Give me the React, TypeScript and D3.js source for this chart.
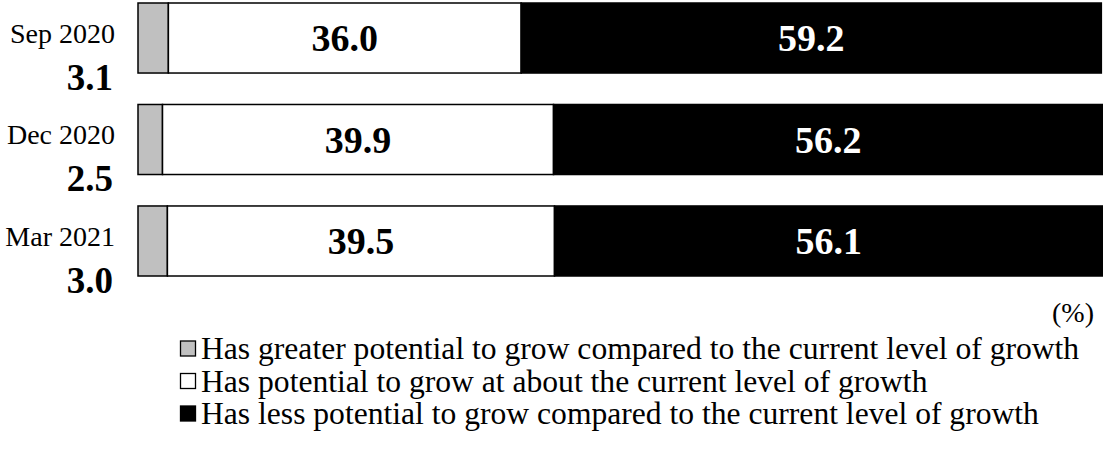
import React from "react";
import * as d3 from "d3";

const categories = ["Sep 2020", "Dec 2020", "Mar 2021"];
const greater = [3.1, 2.5, 3.0];
const about = [36.0, 39.9, 39.5];
const less = [59.2, 56.2, 56.1];
const seriesNames = [
  "Has greater potential to grow compared to the current level of growth",
  "Has potential to grow at about the current level of growth",
  "Has less potential to grow compared to the current level of growth",
];
const seriesColors = ["#c0c0c0", "#ffffff", "#000000"];
const unitLabel = "(%)";

const W = 1103;
const H = 461;
const FONT = "Liberation Serif";

export default function App() {
  const x = d3.scaleLinear().domain([0, 100]).range([138, 1118]);
  const y = d3.scaleBand().domain(categories).range([3, 276]).paddingInner(0.31).paddingOuter(0);
  const rows = categories.map((c, i) => ({ c, vals: [greater[i], about[i], less[i]] }));
  const bw = y.bandwidth();
  const tf = { fontFamily: FONT };

  return (
    <svg width={W} height={H} style={{ position: "absolute", left: 0, top: 0, background: "#fff" }}>
      {rows.map((r) => {
        const y0 = y(r.c)!;
        let acc = 0;
        const segs = r.vals.map((v, k) => {
          const s = acc;
          acc += v;
          return { s, e: acc, v, k };
        });
        return (
          <g key={r.c}>
            {segs.map((sg) => (
              <rect
                key={sg.k}
                x={x(sg.s)}
                y={y0}
                width={x(sg.e) - x(sg.s)}
                height={bw}
                fill={seriesColors[sg.k]}
                stroke="#000"
                strokeWidth={1.5}
              />
            ))}
            {segs.slice(1).map((sg) => (
              <text
                key={"t" + sg.k}
                x={(x(sg.s) + Math.min(x(sg.e), W)) / 2}
                y={y0 + bw / 2}
                dy="0.35em"
                textAnchor="middle"
                fontWeight="bold"
                fontSize={38}
                style={tf}
                fill={sg.k === 2 ? "#fff" : "#000"}
              >
                {sg.v.toFixed(1)}
              </text>
            ))}
            <text x={115} y={y0 + 30} dy="0.35em" textAnchor="end" fontSize={28} style={tf}>
              {r.c}
            </text>
            <text x={113} y={y0 + 74} dy="0.35em" textAnchor="end" fontSize={37} fontWeight="bold" style={tf}>
              {r.vals[0].toFixed(1)}
            </text>
          </g>
        );
      })}
      <text x={1094} y={322} textAnchor="end" fontSize={28} style={tf}>
        {unitLabel}
      </text>
      {seriesNames.map((n, k) => (
        <g key={n} transform={`translate(180, ${348 + k * 32.5})`}>
          <rect x={0.5} y={-7} width={15} height={15} fill={seriesColors[k]} stroke="#000" strokeWidth={1.3} />
          <text x={21} y={0} dy="0.35em" fontSize={31.6} style={tf}>
            {n}
          </text>
        </g>
      ))}
    </svg>
  );
}
